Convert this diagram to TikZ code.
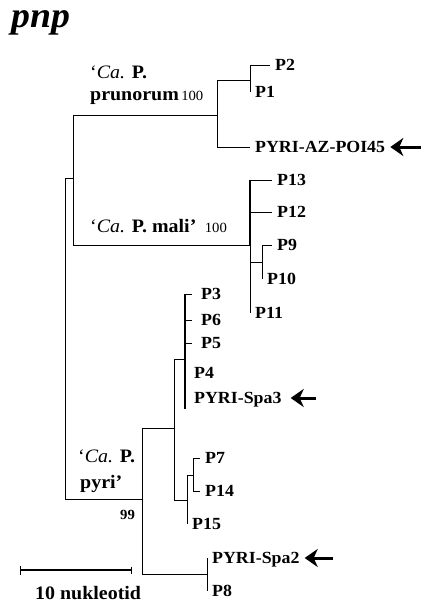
\documentclass[tikz,border=0pt]{standalone}
\usepackage{fontspec}
\setmainfont[FakeStretch=1.05]{Liberation Serif}
\usepackage{tikz}
\usetikzlibrary{arrows.meta}
\tikzset{
  branch/.style={line width=0.9pt},
  stem/.style={line width=1.8pt},
  leaf/.style={anchor=west, inner sep=5pt, text height=11pt, text depth=0pt,
    font=\bfseries\fontsize{17}{17}\selectfont},
  leafwide/.style={leaf, inner xsep=9pt},
  clade/.style={anchor=base west, inner sep=0pt, font=\fontsize{19}{19}\selectfont},
  boot/.style={anchor=base west, inner sep=0pt, font=\fontsize{14}{14}\selectfont},
  pointer/.style={-{Stealth[length=13pt,width=18pt,inset=4pt]}, line width=3pt},
  scalebar/.style={{Bar[width=9pt]}-{Bar[width=7pt]}, line width=1.4pt}
}

\begin{document}
\begin{tikzpicture}[x=1pt, y=-1pt]
	\useasboundingbox (0,0) rectangle (422,602);
	% Titel
	\node[anchor=base west, inner sep=0pt, font=\bfseries\itshape\fontsize{36}{36}\selectfont] (title) at (11,28) {pnp};
	
	% innere Knoten
	\coordinate (root) at (65,178);
	\coordinate (upper) at (73,178);
	\coordinate (prun) at (217,115);
	\coordinate (prA) at (250,80);
	\coordinate (mali) at (250,245);
	\coordinate (maA) at (262,262);
	\coordinate (pyri) at (142,499);
	\coordinate (pyA) at (174,428);
	\coordinate (pyB) at (185,359);
	\coordinate (pyC) at (187,500);
	\coordinate (pyD) at (193,475);
	\coordinate (pyE) at (207,574);
	
	% Blaetter
	\node[leaf] (p2) at (270,65) {P2};
	\node[leaf] (p1) at (250,92) {P1};
	\node[leaf] (poi) at (250,147) {PYRI-AZ-POI45};
	\node[leaf] (p13) at (272,180) {P13};
	\node[leaf] (p12) at (272,212) {P12};
	\node[leaf] (p9) at (272,245) {P9};
	\node[leaf] (p10) at (262,279) {P10};
	\node[leaf] (p11) at (250,313) {P11};
	\node[leafwide] (p3) at (192,294) {P3};
	\node[leafwide] (p6) at (192,320) {P6};
	\node[leafwide] (p5) at (192,343) {P5};
	\node[leafwide] (p4) at (185,373) {P4};
	\node[leafwide] (spa3) at (185,398) {PYRI-Spa3};
	\node[leaf] (p7) at (200,458) {P7};
	\node[leaf] (p14) at (200,491) {P14};
	\node[leaf] (p15) at (187,524) {P15};
	\node[leaf] (spa2) at (207,558) {PYRI-Spa2};
	\node[leaf] (p8) at (207,591) {P8};
	
	% Aeste
	\draw[branch] (root) |- (upper);
	\draw[branch] (root) |- (pyri);
	\draw[branch] (upper) |- (prun);
	\draw[branch] (upper) |- (mali);
	\draw[branch] (prun) |- (prA);
	\draw[branch] (prun) |- (poi.west);
	\draw[branch] (prA) |- (p2.west);
	\draw[branch] (prA) |- (p1.west);
	\draw[stem] (mali |- p13.west) -- (mali);
	\foreach \t in {p13,p12,p11} \draw[branch] (mali) |- (\t.west);
	\draw[branch] (mali) |- (maA);
	\foreach \t in {p9,p10} \draw[branch] (maA) |- (\t.west);
	\draw[branch] (pyri) |- (pyA);
	\draw[branch] (pyri) |- (pyE);
	\draw[branch] (pyA) |- (pyB);
	\draw[branch] (pyA) |- (pyC);
	\draw[stem] (pyB |- p3.west) -- (pyB |- spa3.south);
	\foreach \t in {p3,p6,p5,p4,spa3} \draw[branch] (pyB) |- (\t.west);
	\draw[branch] (pyC) |- (pyD);
	\draw[branch] (pyC) |- (p15.west);
	\foreach \t in {p7,p14} \draw[branch] (pyD) |- (\t.west);
	\foreach \t in {spa2,p8} \draw[branch] (pyE) |- (\t.west);
	
	% Kladen
	\node[clade] (prunA) at (90,78) {‘\textit{Ca.} \textbf{P.}};
	\node[clade] (prunB) at (90,100) {\textbf{prunorum}};
	\node[boot, xshift=2pt] (bprun) at (prunB.base east) {100};
	\node[clade] (maliL) at (90,232) {‘\textit{Ca.} \textbf{P. mali’}};
	\node[boot, xshift=8pt] (bmali) at (maliL.base east) {100};
	\node[clade] (pyriA) at (78,462) {‘\textit{Ca.} \textbf{P.}};
	\node[clade] (pyriB) at (80,488) {\textbf{pyri’}};
	\node[boot, font=\bfseries\fontsize{14}{14}\selectfont] (bpyri) at (120,519) {99};
	
	% Pfeile
	\coordinate (a1) at (421,147);
	\coordinate (a2) at (316,398);
	\coordinate (a3) at (333,558);
	\draw[pointer] (a1) -- (poi.east);
	\draw[pointer] (a2) -- (spa3.east);
	\draw[pointer] (a3) -- (spa2.east);
	
	% Massstab
	\coordinate (sbl) at (20,570);
	\coordinate (sbr) at (132,570);
	\draw[scalebar] (sbl) -- (sbr);
	\node[clade, font=\bfseries\fontsize{19}{19}\selectfont] (sbtext) at (35,599) {10 nukleotid};
\end{tikzpicture}
\end{document}
